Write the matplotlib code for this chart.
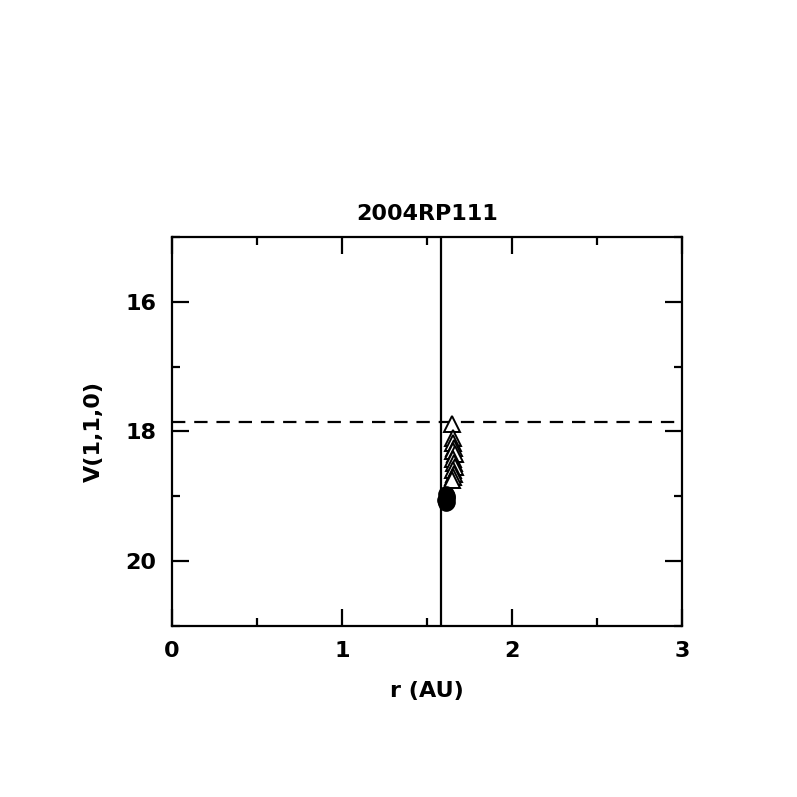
import matplotlib
matplotlib.use("Agg")
import matplotlib.pyplot as plt
from matplotlib.ticker import MultipleLocator

# observations: triangles (open) and filled circles
tri_r = [1.645, 1.650, 1.655, 1.660, 1.650, 1.665, 1.655, 1.660, 1.665, 1.650, 1.660, 1.655, 1.645]
tri_v = [17.88, 18.10, 18.18, 18.25, 18.30, 18.35, 18.42, 18.48, 18.55, 18.60, 18.65, 18.70, 18.75]
dot_r = [1.610, 1.615, 1.620, 1.605, 1.615, 1.610]
dot_v = [18.97, 19.00, 19.03, 19.06, 19.08, 19.10]

r_line = 1.585
v_line = 17.86

title = "2004RP111"
xlabel = "r (AU)"
ylabel = "V(1,1,0)"

plt.rcParams["font.family"] = ["DejaVu Sans"]
plt.rcParams["font.weight"] = "bold"

fig = plt.figure(figsize=(7.97, 7.97), dpi=100)
ax = fig.add_axes([0.2158, 0.2146, 0.64, 0.488])

ax.axvline(r_line, color="black", lw=1.6)
ax.axhline(v_line, color="black", lw=1.6, ls=(0, (6, 4)))

ax.plot(tri_r, tri_v, ls="none", marker="^", ms=12, mfc="white", mec="black", mew=1.4)
ax.plot(dot_r, dot_v, ls="none", marker="o", ms=11, mfc="black", mec="black")

ax.set_xlim(0, 3)
ax.set_ylim(21, 15)
ax.xaxis.set_major_locator(MultipleLocator(1))
ax.xaxis.set_minor_locator(MultipleLocator(0.5))
ax.yaxis.set_major_locator(MultipleLocator(2))
ax.yaxis.set_minor_locator(MultipleLocator(1))
ax.tick_params(which="both", direction="in", top=True, right=True, width=1.6,
               labelsize=16, pad=11)
ax.tick_params(which="major", length=12)
ax.tick_params(which="minor", length=6)
for s in ax.spines.values():
    s.set_linewidth(1.6)

ax.set_title(title, fontsize=16, fontweight="bold", pad=12)
ax.set_xlabel(xlabel, fontsize=16, fontweight="bold", labelpad=14)
ax.set_ylabel(ylabel, fontsize=16, fontweight="bold", labelpad=16)

fig.savefig("out.png", dpi=100)
